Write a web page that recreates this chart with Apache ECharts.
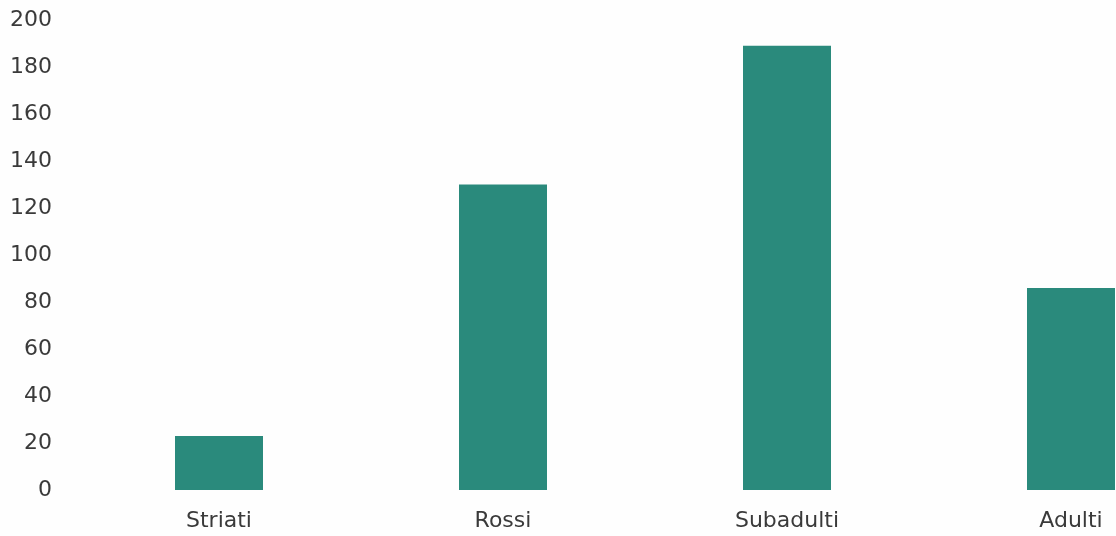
<!DOCTYPE html>
<html>
<head>
<meta charset="utf-8">
<script src="https://cdn.jsdelivr.net/npm/echarts@6/dist/echarts.min.js"></script>
<style>html,body{margin:0;padding:0;background:#fefefe;overflow:hidden;width:1116px;height:536px;}#c{width:1213px;height:536px;}</style>
</head>
<body>
<div id="c"></div>
<script>
const categories = ["Striati", "Rossi", "Subadulti", "Adulti"];
const values = [23, 130, 189, 86];
const yTicks = { min: 0, max: 200, interval: 20 };

const chart = echarts.init(document.getElementById('c'), null, { renderer: 'canvas' });
chart.setOption({
  backgroundColor: '#fefefe',
  animation: false,
  grid: { left: 77, right: 0, top: 20, bottom: 46, containLabel: false },
  xAxis: {
    type: 'category',
    data: categories,
    axisLine: { show: false },
    axisTick: { show: false },
    axisLabel: { color: '#3a3a3a', fontFamily: 'DejaVu Sans', fontSize: 22, margin: 20 }
  },
  yAxis: {
    type: 'value',
    min: yTicks.min, max: yTicks.max, interval: yTicks.interval,
    splitLine: { show: false },
    axisLine: { show: false },
    axisTick: { show: false },
    axisLabel: { color: '#3a3a3a', fontFamily: 'DejaVu Sans', fontSize: 22, margin: 25 }
  },
  series: [{
    type: 'bar',
    data: values,
    barWidth: 88,
    itemStyle: { color: '#2a8a7c' }
  }]
});
</script>
</body>
</html>
